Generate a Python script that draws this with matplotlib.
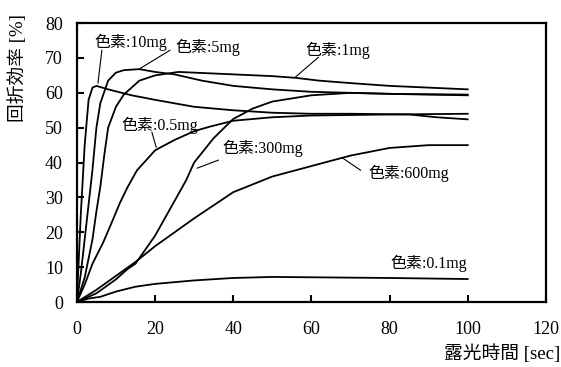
import numpy as np
import matplotlib.pyplot as plt

# data (x = exposure time [sec], y = diffraction efficiency [%])
x_10mg = [0, 1, 2, 3, 4, 5, 8, 14, 20, 30, 40, 50, 60, 70, 85, 92, 100]
y_10mg = [0, 25, 45, 58, 61.5, 62, 61, 59.3, 58, 56, 55, 54.3, 54, 54, 53.8, 53, 52.4]

x_5mg = [0, 1, 2, 3, 4, 5, 6, 8, 10, 12, 16, 20, 25, 32, 40, 50, 60, 70, 85, 100]
y_5mg = [0, 8, 18, 28, 38, 50, 57, 63.5, 65.8, 66.5, 66.8, 66, 65.3, 63.5, 62, 61, 60.3, 60, 59.6, 59.3]

x_1mg = [0, 2, 4, 5, 6, 7, 8, 10, 12, 16, 20, 26, 40, 50, 56, 62, 70, 80, 90, 100]
y_1mg = [0, 7, 18, 26, 33, 42, 50, 56, 59.5, 63.5, 65, 66, 65.3, 64.8, 64.3, 63.5, 62.8, 62, 61.5, 61]

x_05mg = [0, 2, 4, 6.7, 9, 11, 13, 15.4, 18, 20, 25, 30, 34, 40, 50, 60, 80, 100]
y_05mg = [0, 5, 11, 17, 23, 28.4, 33, 37.8, 41, 43.5, 46.5, 49, 50.3, 52, 53, 53.5, 53.8, 54]

x_300mg = [0, 5, 10, 13, 15, 20, 25, 28, 30, 35, 40, 45, 50, 60, 70, 80, 100]
y_300mg = [0, 2.5, 6.5, 9.5, 11, 19, 29, 35, 40, 47, 52.5, 55.5, 57.5, 59.3, 60, 59.7, 59.5]

x_600mg = [0, 5, 10, 15, 20, 30, 40, 50, 60, 70, 80, 90, 100]
y_600mg = [0, 3.5, 7.5, 11.5, 16, 24, 31.5, 36, 39, 42, 44.2, 45, 45]

x_01mg = [0, 3, 6, 10, 15, 20, 30, 40, 50, 60, 80, 100]
y_01mg = [0, 1, 1.5, 3, 4.4, 5.2, 6.2, 6.9, 7.2, 7.1, 6.9, 6.6]

series = [(x_10mg, y_10mg), (x_5mg, y_5mg), (x_1mg, y_1mg), (x_05mg, y_05mg),
          (x_300mg, y_300mg), (x_600mg, y_600mg), (x_01mg, y_01mg)]

# label text, text anchor, pointer start, pointer end (None = no pointer)
labels = [
    ("色素:10mg", (4.6, 74.5), (6.4, 72.2), (5.4, 62.8)),
    ("色素:5mg", (25.1, 73.0), (23.8, 72.2), (16.2, 67.0)),
    ("色素:1mg", (58.5, 72.2), (61.8, 70.2), (55.9, 64.5)),
    ("色素:0.5mg", (11.5, 50.7), (19.2, 48.7), (20.3, 44.4)),
    ("色素:300mg", (37.2, 44.1), (36.2, 40.7), (30.8, 38.4)),
    ("色素:600mg", (74.6, 37.0), (72.6, 37.8), (68.0, 41.3)),
    ("色素:0.1mg", (80.3, 11.2), None, None),
]

x_ticks = [0, 20, 40, 60, 80, 100, 120]
y_ticks = [0, 10, 20, 30, 40, 50, 60, 70, 80]

FONTS = ['Liberation Serif', 'Noto Sans CJK JP']
plt.rcParams['font.family'] = FONTS

fig = plt.figure(figsize=(5.61, 3.67), dpi=100)
ax = fig.add_axes([0.137, 0.177, 0.836, 0.760])

for xs, ys in series:
    ax.plot(xs, ys, color='black', lw=1.3)

for text, pos, p0, p1 in labels:
    ax.text(pos[0], pos[1], text, fontsize=11.5, ha='left', va='center', family=FONTS)
    if p0 is not None:
        ax.plot([p0[0], p1[0]], [p0[1], p1[1]], color='black', lw=0.8)

ax.set_xlim(0, 120)
ax.set_ylim(0, 80)
ax.set_xticks(x_ticks)
ax.set_yticks(y_ticks)
ax.tick_params(direction='in', length=5, width=1.5, labelsize=13)
ax.tick_params(axis='x', pad=14)
ax.tick_params(axis='y', pad=10)
for s in ax.spines.values():
    s.set_linewidth(1.6)

fig.text(18 / 561, 1 - 68 / 367, '回折効率 [%]', rotation=90, ha='center', va='center',
         fontsize=13.5, family=FONTS)
fig.text(560 / 561, 1 - 354 / 367, '露光時間 [sec]', ha='right', va='center',
         fontsize=13.5, family=FONTS)

fig.savefig('out.png', dpi=100)
